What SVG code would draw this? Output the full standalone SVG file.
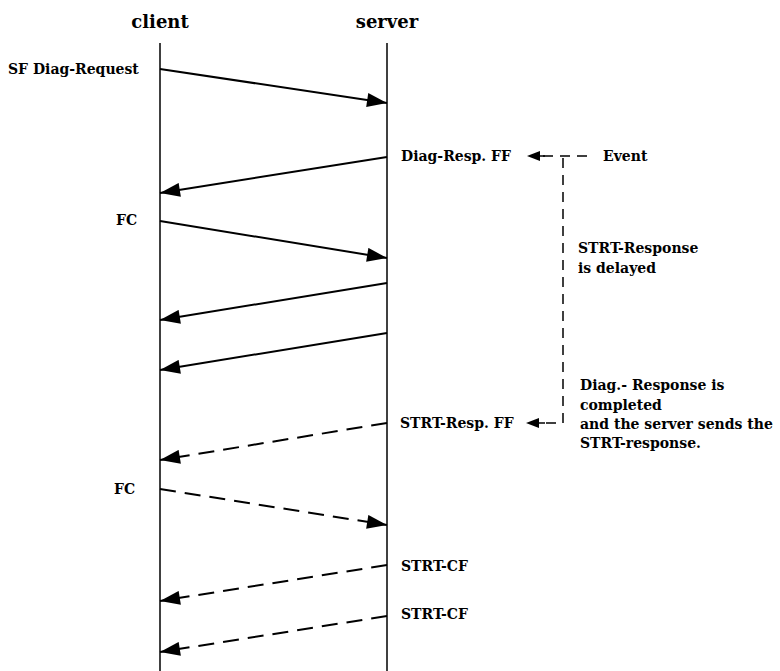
<svg xmlns="http://www.w3.org/2000/svg" width="780" height="671" viewBox="0 0 780 671">
<defs>
<marker id="ahBig" viewBox="0 0 20 14" refX="20" refY="7" markerWidth="22" markerHeight="14" markerUnits="userSpaceOnUse" orient="auto"><path d="M0,0 L20,7 L0,14 z" fill="#000"/></marker>
</defs>
<style>
text{font-family:"DejaVu Serif","Liberation Serif",serif;font-weight:bold;fill:#000}
.lbl{font-size:14px}
.title{font-size:18px}
.life{stroke:#000;stroke-width:1.5;fill:none}
.msg{stroke:#000;stroke-width:2;fill:none;marker-end:url(#ahBig)}
.dash{stroke-dasharray:16,9}
.ev{stroke:#000;stroke-width:1.5;fill:none;stroke-dasharray:10,7}
</style>
<rect width="780" height="671" fill="#fff"/>
<g id="client">
<text class="title" x="160" y="28" text-anchor="middle">client</text>
<line class="life" x1="160" y1="43" x2="160" y2="671"/>
</g>
<g id="server">
<text class="title" x="387" y="28" text-anchor="middle">server</text>
<line class="life" x1="387" y1="43" x2="387" y2="671"/>
</g>
<g id="labels">
<text class="lbl" x="8" y="74">SF Diag-Request</text>
<text class="lbl" x="116" y="225">FC</text>
<text class="lbl" x="114" y="494">FC</text>
<text class="lbl" x="401" y="161">Diag-Resp. FF</text>
<text class="lbl" x="400" y="428">STRT-Resp. FF</text>
<text class="lbl" x="401" y="571">STRT-CF</text>
<text class="lbl" x="401" y="619">STRT-CF</text>
</g>
<g id="event">
<text class="lbl" x="603" y="161">Event</text>
</g>
<g id="note-delayed">
<text class="lbl" x="578" y="253">STRT-Response</text>
<text class="lbl" x="578" y="273">is delayed</text>
</g>
<g id="note-completed">
<text class="lbl" x="580" y="390">Diag.- Response is</text>
<text class="lbl" x="580" y="410">completed</text>
<text class="lbl" x="580" y="429">and the server sends the</text>
<text class="lbl" x="580" y="448">STRT-response.</text>
</g>
<g id="connectors">
<line class="msg" x1="160" y1="69" x2="387" y2="103"/>
<line class="msg" x1="387" y1="157" x2="160" y2="193"/>
<line class="msg" x1="160" y1="221" x2="387" y2="258"/>
<line class="msg" x1="387" y1="283" x2="160" y2="320"/>
<line class="msg" x1="387" y1="333" x2="160" y2="370"/>
<line class="msg dash" x1="387" y1="423" x2="160" y2="460"/>
<line class="msg dash" x1="160" y1="489" x2="387" y2="525"/>
<line class="msg dash" x1="387" y1="565" x2="160" y2="601"/>
<line class="msg dash" x1="387" y1="616" x2="160" y2="652"/>
<path class="ev" d="M587,156 L530,156"/>
<path class="ev" d="M563,158 L563,423 L530,423"/>
<path d="M527,156 l13,-5 v10 z" fill="#000"/>
<path d="M526,423 l13,-5 v10 z" fill="#000"/>
<line x1="538" y1="156" x2="545" y2="156" stroke="#000" stroke-width="1.5"/>
<line x1="538" y1="423" x2="545" y2="423" stroke="#000" stroke-width="1.5"/>
</g>
</svg>
